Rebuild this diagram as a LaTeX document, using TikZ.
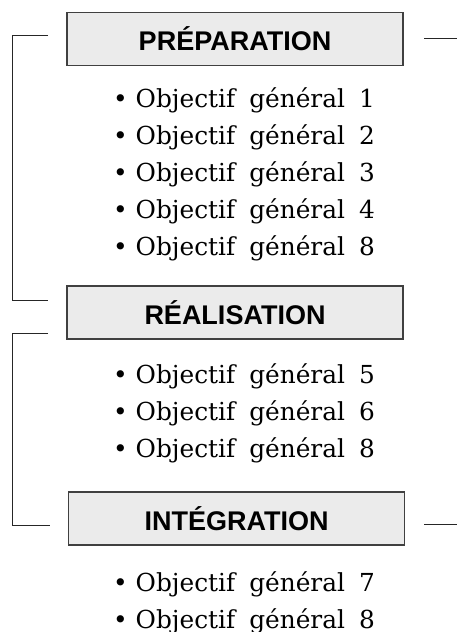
\documentclass[tikz,border=0pt]{standalone}
\usepackage{fontspec}
\setmainfont{DejaVu Serif}
\newfontfamily\headfont{Liberation Sans}
\usepackage{tikz}
\usetikzlibrary{positioning}
\newcommand{\gap}{\hspace{14pt}}

\begin{document}
\begin{tikzpicture}[x=1pt,y=-1pt,
  phase/.style={draw=black!75,line width=1.3pt,fill=black!8,minimum width=336pt,
    minimum height=53pt,inner sep=0pt,font=\headfont\bfseries\fontsize{27}{30}\selectfont},
  goals/.style={anchor=base west,align=left,inner sep=0pt,
    font=\fontsize{24.8}{37}\selectfont},
  bracket/.style={draw=black!85,line width=0.9pt}]
\useasboundingbox (0,0) rectangle (457,632);

\node[phase] (prep) at (235,39) {PRÉPARATION};
\node[phase] (real) at (235,312.5) {RÉALISATION};
\node[phase] (integ) at (236.5,518.5) {INTÉGRATION};

% the base anchor is on the last line
\node[goals] (goals1) at (113,255) {%
\textbullet\ Objectif\gap général\gap 1\\
\textbullet\ Objectif\gap général\gap 2\\
\textbullet\ Objectif\gap général\gap 3\\
\textbullet\ Objectif\gap général\gap 4\\
\textbullet\ Objectif\gap général\gap 8};
\node[goals] (goals2) at (113,457) {%
\textbullet\ Objectif\gap général\gap 5\\
\textbullet\ Objectif\gap général\gap 6\\
\textbullet\ Objectif\gap général\gap 8};
\node[goals] (goals3) at (113,628) {%
\textbullet\ Objectif\gap général\gap 7\\
\textbullet\ Objectif\gap général\gap 8};

% brackets on the left
\coordinate (a1) at (48,35);
\coordinate (a2) at (48,300);
\coordinate (c1) at (48,333);
\coordinate (c2) at (50,525);
\draw[bracket] (a1) -- (12,35) -- (12,300) -- (a2);
\draw[bracket] (c1) -- (12,333) -- (12,525) -- (c2);

% short lines on the right
\coordinate (r1) at (424,38);
\coordinate (r2) at (424,524);
\draw[bracket] (r1) -- (457,38);
\draw[bracket] (r2) -- (457,524);
\end{tikzpicture}
\end{document}
